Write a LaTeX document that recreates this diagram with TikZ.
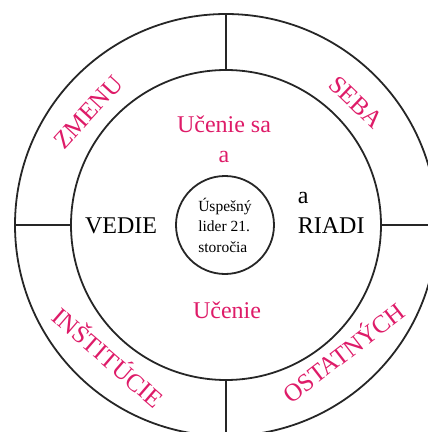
\documentclass[tikz,border=0pt]{standalone}
\usepackage{fontspec}
\setmainfont{Liberation Serif}
\definecolor{ruzova}{RGB}{222,27,104}

\begin{document}
\begin{tikzpicture}[x=1pt, y=1pt, line width=1.8pt,
    kruh/.style={circle, draw=black!85, inner sep=0pt, outer sep=0pt},
    ruzovy/.style={text=ruzova, inner sep=0pt, font=\fontsize{24}{30}\selectfont},
    cierny/.style={text=black, inner sep=0pt, font=\fontsize{24}{30}\selectfont},
    obvod/.style={text=ruzova, inner sep=0pt, text height=17pt, text depth=0pt,
                  font=\fontsize{25}{30}\selectfont}]

    % --- 1. polomery kruhov ---
    % rVonk: vonkajsi kruh, rVnut: vnutorny kruh, rStred: stredny kruh
    \def\rVonk{211pt}
    \def\rVnut{155pt}
    \def\rStred{49pt}

    \useasboundingbox (-226,-207) rectangle (202,225);
    \clip (-226,-207) rectangle (202,225);

    % --- 2. kruhy ---
    \node[kruh, minimum size=2*\rVonk] (vonk) at (0,0) {};
    \node[kruh, minimum size=2*\rVnut] (vnut) at (0,0) {};
    \node[kruh, minimum size=2*\rStred, align=left,
          font=\fontsize{15.5}{20.5}\selectfont] (stred) at (-1,0)
          {Úspešný\\lider 21.\\storočia};

    % --- 3. deliace ciary medzi kruhmi ---
    \draw[black!85] (vnut.north) -- (vonk.north);
    \draw[black!85] (vnut.south) -- (vonk.south);
    \draw[black!85] (vnut.west)  -- (vonk.west);
    \draw[black!85] (vnut.east)  -- (vonk.east);

    % --- 4. texty vo vnutornom kruhu ---
    \node[ruzovy, align=center, anchor=base] (ucenieSa) at (-2,63) {Učenie sa\\a};
    \node[cierny, anchor=base] (vedie) at (-105,-8) {VEDIE};
    \node[cierny, anchor=base west] (aRiadi) at (71,22) {a};
    \node[cierny, anchor=base west] (riadi) at (71,-8) {RIADI};
    \node[ruzovy, anchor=base] (ucenie) at (1,-93) {Učenie};

    % --- 5. texty na obvode ---
    \node[obvod, rotate=47.5]  (zmenu)      at (-138,113)  {ZMENU};
    \node[obvod, rotate=-43.7] (seba)       at (130,123)   {SEBA};
    \node[obvod, rotate=-40.8] (institucie) at (-118,-133) {INŠTITÚCIE};
    \node[obvod, rotate=37.6]  (ostatnych)  at (118,-128)  {OSTATNÝCH};

\end{tikzpicture}
\end{document}
